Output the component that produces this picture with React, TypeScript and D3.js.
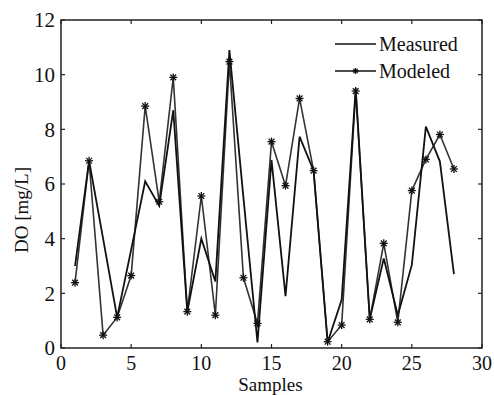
import React, { useRef, useEffect } from "react";
import * as d3 from "d3";

const samples = [1, 2, 3, 4, 5, 6, 7, 8, 9, 10, 11, 12, 13, 14, 15, 16, 17, 18, 19, 20, 21, 22, 23, 24, 25, 26, 27, 28];
const measured = [3.0, 6.85, 4.0, 1.12, 3.6, 6.1, 5.2, 8.7, 1.33, 4.0, 2.43, 10.9, 5.5, 0.2, 6.88, 1.9, 7.73, 6.49, 0.21, 1.76, 9.5, 1.05, 3.28, 1.2, 3.04, 8.1, 6.82, 2.7];
const modeled = [2.39, 6.85, 0.47, 1.12, 2.65, 8.85, 5.35, 9.9, 1.33, 5.56, 1.2, 10.48, 2.57, 0.9, 7.55, 5.94, 9.13, 6.49, 0.23, 0.84, 9.4, 1.05, 3.83, 0.94, 5.76, 6.9, 7.81, 6.55];
const xTicks = [0, 5, 10, 15, 20, 25, 30];
const yTicks = [0, 2, 4, 6, 8, 10, 12];

const W = 494;
const H = 395;
const margin = { top: 20, right: 12, bottom: 47, left: 61 };
const FONT = "'Liberation Serif', 'Times New Roman', serif";

const star = (g: any, x: number, y: number, r = 4) => {
  const s = g.append("g").attr("transform", `translate(${x},${y})`);
  const d = r * 0.72;
  [[-r, 0, r, 0], [0, -r, 0, r], [-d, -d, d, d], [-d, d, d, -d]].forEach(([x1, y1, x2, y2]) => {
    s.append("line").attr("x1", x1).attr("y1", y1).attr("x2", x2).attr("y2", y2)
      .attr("stroke", "#111").attr("stroke-width", 1.3);
  });
};

const Chart = () => {
  const svgRef = useRef<SVGSVGElement>(null);

  useEffect(() => {
    const svg = d3.select(svgRef.current);
    svg.selectAll("*").remove();

    const innerWidth = W - margin.left - margin.right;
    const innerHeight = H - margin.top - margin.bottom;

    const x = d3.scaleLinear().domain([0, 30]).range([0, innerWidth]);
    const y = d3.scaleLinear().domain([0, 12]).range([innerHeight, 0]);

    const g = svg.append("g").attr("transform", `translate(${margin.left},${margin.top})`);

    // frame
    g.append("rect").attr("width", innerWidth).attr("height", innerHeight)
      .attr("fill", "none").attr("stroke", "#222").attr("stroke-width", 1.5);

    // inward ticks on all sides
    const tl = 4;
    xTicks.forEach((t) => {
      g.append("line").attr("x1", x(t)).attr("x2", x(t)).attr("y1", innerHeight).attr("y2", innerHeight - tl)
        .attr("stroke", "#222").attr("stroke-width", 1.2);
      g.append("line").attr("x1", x(t)).attr("x2", x(t)).attr("y1", 0).attr("y2", tl)
        .attr("stroke", "#222").attr("stroke-width", 1.2);
      g.append("text").attr("x", x(t)).attr("y", innerHeight + 22)
        .attr("text-anchor", "middle").attr("font-family", FONT).attr("font-size", 20)
        .attr("fill", "#111").text(t);
    });
    yTicks.forEach((t) => {
      g.append("line").attr("x1", 0).attr("x2", tl).attr("y1", y(t)).attr("y2", y(t))
        .attr("stroke", "#222").attr("stroke-width", 1.2);
      g.append("line").attr("x1", innerWidth).attr("x2", innerWidth - tl).attr("y1", y(t)).attr("y2", y(t))
        .attr("stroke", "#222").attr("stroke-width", 1.2);
      g.append("text").attr("x", -6).attr("y", y(t)).attr("dy", "0.35em")
        .attr("text-anchor", "end").attr("font-family", FONT).attr("font-size", 21)
        .attr("fill", "#111").text(t);
    });

    const line = d3.line<number>().x((d, i) => x(samples[i])).y((d) => y(d));

    g.append("path").datum(modeled).attr("d", line).attr("fill", "none")
      .attr("stroke", "#333").attr("stroke-width", 1.6);
    g.append("path").datum(measured).attr("d", line).attr("fill", "none")
      .attr("stroke", "#111").attr("stroke-width", 1.8);

    modeled.forEach((v, i) => star(g, x(samples[i]), y(v)));

    // legend
    const lg = svg.append("g");
    lg.append("line").attr("x1", 335).attr("x2", 376).attr("y1", 44).attr("y2", 44)
      .attr("stroke", "#111").attr("stroke-width", 1.6);
    lg.append("text").attr("x", 379).attr("y", 44).attr("dy", "0.35em")
      .attr("font-family", FONT).attr("font-size", 20).attr("fill", "#111").text("Measured");
    lg.append("line").attr("x1", 335).attr("x2", 376).attr("y1", 71).attr("y2", 71)
      .attr("stroke", "#111").attr("stroke-width", 1.6);
    star(lg, 355.5, 71, 3);
    lg.append("text").attr("x", 379).attr("y", 71).attr("dy", "0.35em")
      .attr("font-family", FONT).attr("font-size", 20).attr("fill", "#111").text("Modeled");

    // axis titles
    svg.append("text").attr("x", margin.left + innerWidth / 2 - 1).attr("y", 391)
      .attr("text-anchor", "middle").attr("font-family", FONT).attr("font-size", 19)
      .attr("fill", "#111").text("Samples");
    svg.append("text").attr("transform", `translate(28,210) rotate(-90)`)
      .attr("text-anchor", "middle").attr("font-family", FONT).attr("font-size", 19)
      .attr("fill", "#111").text("DO [mg/L]");
  }, []);

  return (
    <svg ref={svgRef} width={W} height={H}
      style={{ position: "fixed", left: 0, top: 0, display: "block", background: "#fff" }}></svg>
  );
};

export default function App() {
  return <Chart />;
}
